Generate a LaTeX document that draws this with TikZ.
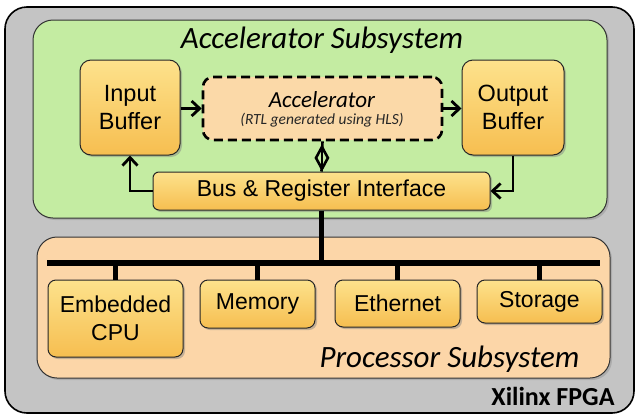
\documentclass[tikz,border=0pt]{standalone}
\usepackage{fontspec}
\setmainfont{Liberation Sans}
\newfontfamily\calfont{Carlito}
\usetikzlibrary{arrows.meta,shadows,shapes.geometric,calc}
\definecolor{fpgagray}{RGB}{196,196,196}
\definecolor{accgreen}{RGB}{196,236,162}
\definecolor{procpeach}{RGB}{252,214,168}
\definecolor{acccore}{RGB}{251,217,168}
\definecolor{boxtop}{RGB}{253,226,140}
\definecolor{boxbot}{RGB}{246,190,80}
\begin{document}
\begin{tikzpicture}[x=1pt,y=1pt,
  region/.style={draw=black!80, line width=1pt, rounded corners=20pt, inner sep=0pt,
    drop shadow={shadow xshift=2pt, shadow yshift=-2pt, opacity=0.35}},
  blockbox/.style={draw=black!85, line width=1pt, rounded corners=11pt, inner sep=0pt,
    top color=boxtop, bottom color=boxbot, align=center, font=\fontsize{23.5}{28}\selectfont,
    drop shadow={shadow xshift=2pt, shadow yshift=-2pt, opacity=0.45}},
  dev/.style={blockbox, rounded corners=8pt, font=\fontsize{23}{28}\selectfont},
  flow/.style={line width=2.8pt, -{Straight Barb[length=8pt,width=15pt,line width=2.8pt]}},
  link/.style={line width=4.5pt},
  title/.style={font=\calfont\itshape\fontsize{31}{34}\selectfont, inner sep=0pt, anchor=base}
]
\useasboundingbox (0,0) rectangle (637,-418);
% FPGA
\node[draw=black, line width=1.6pt, rounded corners=22pt, fill=fpgagray, minimum width=629pt, minimum height=406pt,
  inner sep=0pt] (fpga) at (319.5,-210) {};
% accelerator subsystem
\node[region, fill=accgreen, minimum width=574pt, minimum height=198pt] (accsub) at (320,-119) {};
\node[title] (acctitle) at (322,-48) {Accelerator Subsystem};
% processor subsystem
\node[region, fill=procpeach, minimum width=573pt, minimum height=141pt] (procsub) at (323.5,-307.5) {};
\node[title] (proctitle) at (449.5,-367) {Processor Subsystem};
\node[font=\calfont\bfseries\fontsize{26}{28}\selectfont, inner sep=0pt, anchor=base] (xil) at (553,-405) {Xilinx FPGA};
% blocks
\node[blockbox, minimum width=100pt, minimum height=95pt] (inbuf) at (130,-107.5) {Input\\Buffer};
\node[blockbox, minimum width=102pt, minimum height=95pt] (outbuf) at (513,-107.5) {Output\\Buffer};
\node[draw=black, line width=2.6pt, dash pattern=on 9pt off 5pt, rounded corners=10pt, fill=acccore,
  minimum width=239pt, minimum height=63pt, inner sep=0pt] (acc) at (322.5,-108.5) {};
\node[font=\calfont\itshape\fontsize{23}{25}\selectfont, inner sep=0pt, anchor=base] (acclabel) at (322,-107) {Accelerator};
\node[font=\calfont\itshape\fontsize{15.5}{17}\selectfont, text=black!85, inner sep=0pt, anchor=base] (accsub2) at (322,-124.5) {(RTL generated using HLS)};
\node[blockbox, rounded corners=6pt, minimum width=337pt, minimum height=38pt, font=\fontsize{23}{26}\selectfont] (bus) at (321.5,-191) {Bus \& Register Interface};
% devices
\node[dev, minimum width=135pt, minimum height=77pt] (cpu) at (115.5,-318.5) {Embedded\\CPU};
\node[dev, minimum width=115pt, minimum height=48pt] (mem) at (257.5,-304) {Memory};
\node[dev, minimum width=125pt, minimum height=47pt] (eth) at (397.5,-303.5) {Ethernet};
\node[dev, minimum width=125pt, minimum height=43pt] (sto) at (539.5,-301.5) {Storage};
% connectors
\draw[flow] (inbuf.east |- acc.west) -- (acc.west);
\draw[flow] (acc.east) -- (outbuf.west |- acc.east);
\draw[flow] (outbuf.south) |- (bus.east);
\draw[flow] (bus.west) -| (inbuf.south);
\draw[line width=2.6pt] (acc.south) -- (bus.north);
\node[diamond, draw=black, line width=2.6pt, fill=accgreen, minimum width=13pt, minimum height=23pt, inner sep=0pt] (dia) at ($(acc.south)!0.55!(bus.north)$) {};
\draw[line width=2.6pt] (dia.north) -- (dia.south);
% processor bus
\coordinate (busl) at (47,-263);
\coordinate (busr) at (600,-263);
\draw[line width=6pt] (busl) -- (busr);
\draw[link] (bus.south) -- (bus.south |- busr);
\foreach \d in {cpu,mem,eth,sto} \draw[link] (\d.north) -- (\d.north |- busl);
\end{tikzpicture}
\end{document}
